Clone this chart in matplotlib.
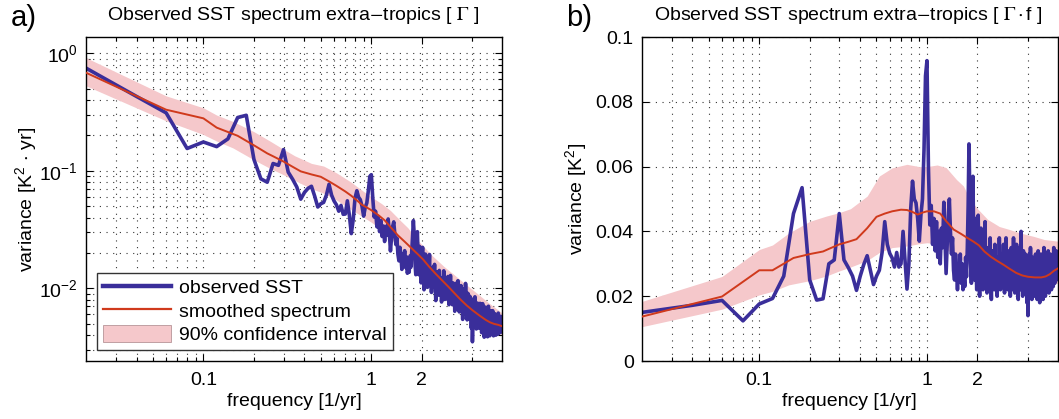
import numpy as np
import matplotlib
matplotlib.use('Agg')
import matplotlib.pyplot as plt
from matplotlib.ticker import FixedLocator, FixedFormatter, NullFormatter
from matplotlib.lines import Line2D
from matplotlib.patches import Patch

plt.rcParams['font.family'] = ['Liberation Sans', 'DejaVu Sans']
plt.rcParams['mathtext.fontset'] = 'stix'

# frequency grid of the periodogram [1/yr], 0.02 ... 6.00
freq = np.round(np.arange(1, 301) / 50.0, 2)

# observed SST spectrum times frequency (panel b) [K^2]
obs_gf = np.array([
    # 0.02 - 1.00
    0.0150, 0.0172, 0.0187, 0.0124, 0.0176, 0.0193, 0.0262, 0.0455, 0.0535, 0.0250,
    0.0188, 0.0192, 0.0300, 0.0312, 0.0455, 0.0312, 0.0288, 0.0262, 0.0218, 0.0262,
    0.0298, 0.0325, 0.0280, 0.0236, 0.0262, 0.0280, 0.0335, 0.0430, 0.0360, 0.0332,
    0.0318, 0.0290, 0.0335, 0.0290, 0.0300, 0.0400, 0.0310, 0.0222, 0.0300, 0.0470,
    0.0555, 0.0500, 0.0488, 0.0440, 0.0370, 0.0450, 0.0500, 0.0650, 0.0880, 0.0927,
    # 1.02 - 2.00
    0.060, 0.042, 0.048, 0.036, 0.044, 0.034, 0.043, 0.032, 0.040, 0.030,
    0.041, 0.035, 0.049, 0.038, 0.027, 0.036, 0.045, 0.050, 0.040, 0.033,
    0.038, 0.028, 0.025, 0.033, 0.029, 0.022, 0.030, 0.026, 0.033, 0.024,
    0.030, 0.022, 0.027, 0.023, 0.032, 0.026, 0.035, 0.048, 0.067, 0.052,
    0.030, 0.024, 0.042, 0.057, 0.035, 0.025, 0.044, 0.030, 0.022, 0.036,
    # 2.02 - 6.00
    0.045, 0.028, 0.020, 0.033, 0.041, 0.026, 0.031, 0.022, 0.037, 0.029,
    0.043, 0.025, 0.032, 0.021, 0.028, 0.035, 0.024, 0.030, 0.038, 0.026,
    0.019, 0.030, 0.034, 0.025, 0.029, 0.022, 0.036, 0.027, 0.024, 0.032,
    0.020, 0.028, 0.031, 0.024, 0.038, 0.026, 0.022, 0.030, 0.027, 0.033,
    0.023, 0.029, 0.036, 0.025, 0.021, 0.031, 0.027, 0.038, 0.024, 0.030,
    0.026, 0.022, 0.034, 0.028, 0.025, 0.032, 0.020, 0.029, 0.035, 0.024,
    0.027, 0.031, 0.022, 0.038, 0.026, 0.029, 0.021, 0.033, 0.025, 0.028,
    0.036, 0.023, 0.030, 0.026, 0.019, 0.031, 0.027, 0.035, 0.024, 0.029,
    0.022, 0.040, 0.027, 0.025, 0.032, 0.020, 0.028, 0.034, 0.024, 0.030,
    0.026, 0.021, 0.033, 0.027, 0.024, 0.030, 0.018, 0.026, 0.031, 0.014,
    0.020, 0.029, 0.033, 0.024, 0.027, 0.021, 0.035, 0.026, 0.023, 0.030,
    0.019, 0.028, 0.025, 0.032, 0.022, 0.027, 0.024, 0.031, 0.020, 0.028,
    0.025, 0.033, 0.021, 0.027, 0.030, 0.023, 0.019, 0.029, 0.026, 0.034,
    0.022, 0.028, 0.024, 0.031, 0.018, 0.026, 0.029, 0.023, 0.033, 0.025,
    0.021, 0.028, 0.032, 0.024, 0.027, 0.019, 0.030, 0.025, 0.035, 0.022,
    0.028, 0.026, 0.031, 0.020, 0.027, 0.024, 0.033, 0.023, 0.029, 0.026,
    0.030, 0.022, 0.027, 0.034, 0.024, 0.028, 0.021, 0.031, 0.026, 0.029,
    0.023, 0.033, 0.025, 0.030, 0.027, 0.022, 0.032, 0.026, 0.029, 0.024,
    0.031, 0.027, 0.023, 0.030, 0.035, 0.025, 0.028, 0.032, 0.024, 0.029,
    0.033, 0.026, 0.030, 0.027, 0.034, 0.025, 0.029, 0.031, 0.027, 0.030,
])

# smoothed spectrum times frequency
smooth_f = np.array([0.02, 0.06, 0.10, 0.12, 0.16, 0.20, 0.24, 0.26, 0.30, 0.34,
                     0.38, 0.44, 0.50, 0.56, 0.62, 0.70, 0.76, 0.82, 0.88, 0.94,
                     1.00, 1.10, 1.20, 1.30, 1.44, 1.60, 1.74, 1.90, 2.04, 2.20,
                     2.40, 2.60, 2.86, 3.10, 3.40, 3.70, 4.00, 4.40, 4.80, 5.10,
                     5.40, 5.70, 6.00])
smooth_gf = np.array([0.0137, 0.0199, 0.0280, 0.0280, 0.0318, 0.0330, 0.0338, 0.0346, 0.0360, 0.0368,
                      0.0376, 0.0410, 0.0445, 0.0455, 0.0462, 0.0467, 0.0466, 0.0460, 0.0452, 0.0458,
                      0.0462, 0.0462, 0.0455, 0.0432, 0.0406, 0.0392, 0.0380, 0.0368, 0.0357, 0.0338,
                      0.0322, 0.0310, 0.0297, 0.0285, 0.0272, 0.0264, 0.0260, 0.0258, 0.0258, 0.0261,
                      0.0268, 0.0278, 0.0285])

# 90% confidence interval times frequency
ci_f = np.array([0.02, 0.06, 0.10, 0.12, 0.15, 0.20, 0.25, 0.30, 0.35, 0.44,
                 0.52, 0.62, 0.76, 0.90, 1.00, 1.15, 1.30, 1.50, 1.65, 1.80,
                 2.00, 2.30, 2.70, 3.10, 3.60, 4.30, 5.00, 6.00])
ci_lo = np.array([0.0106, 0.0160, 0.0204, 0.0215, 0.0235, 0.0248, 0.0262, 0.0278, 0.0290, 0.0310,
                  0.0335, 0.0350, 0.0355, 0.0362, 0.0365, 0.0362, 0.0345, 0.0325, 0.0310, 0.0298,
                  0.0285, 0.0270, 0.0250, 0.0240, 0.0235, 0.0233, 0.0235, 0.0240])
ci_hi = np.array([0.0184, 0.0261, 0.0344, 0.0358, 0.0395, 0.0431, 0.0447, 0.0458, 0.0470, 0.0509,
                  0.0571, 0.0596, 0.0607, 0.0600, 0.0600, 0.0605, 0.0597, 0.0560, 0.0540, 0.0500,
                  0.0470, 0.0437, 0.0415, 0.0406, 0.0395, 0.0385, 0.0375, 0.0370])

x_major = [0.1, 1, 2]
x_major_labels = ['0.1', '1', '2']
x_minor = [0.03, 0.04, 0.05, 0.06, 0.07, 0.08, 0.09,
           0.2, 0.3, 0.4, 0.5, 0.6, 0.7, 0.8, 0.9, 4]
ya_major = [1e-2, 1e-1, 1]
ya_labels = [r'$\mathregular{10^{-2}}$', r'$\mathregular{10^{-1}}$', r'$\mathregular{10^{0}}$']
yb_major = [0, 0.02, 0.04, 0.06, 0.08, 0.1]
yb_labels = ['0', '0.02', '0.04', '0.06', '0.08', '0.1']

c_obs = '#3a2e9a'
c_smooth = '#d03a1c'
c_ci = '#f5c8cb'
FS = 14
grid_kw = dict(color='#333333', linestyle=(0, (1, 5)), linewidth=0.8)

W, H = 1059, 419
fig = plt.figure(figsize=(W / 100, H / 100), dpi=100)
axa = fig.add_axes([86 / W, 58 / H, 416 / W, 324 / H])
axb = fig.add_axes([642 / W, 58 / H, 415.5 / W, 324 / H])


def style_axis(ax):
    ax.set_xscale('log')
    ax.set_xlim(0.02, 6)
    ax.xaxis.set_major_locator(FixedLocator(x_major))
    ax.xaxis.set_major_formatter(FixedFormatter(x_major_labels))
    ax.xaxis.set_minor_locator(FixedLocator(x_minor))
    ax.xaxis.set_minor_formatter(NullFormatter())
    ax.tick_params(which='both', direction='in', top=True, right=True,
                   labelsize=FS, width=0.8, pad=6)
    ax.tick_params(axis='x', which='major', pad=8)
    ax.tick_params(which='major', length=5)
    ax.tick_params(which='minor', length=3)
    ax.set_axisbelow(True)
    for s in ax.spines.values():
        s.set_linewidth(1.0)
    ax.set_xlabel('frequency [1/yr]', fontsize=FS)
    ax.xaxis.set_label_coords(0.5, -0.098)


# panel a: spectrum
style_axis(axa)
axa.set_yscale('log')
axa.set_ylim(0.0024, 1.38)
axa.yaxis.set_major_locator(FixedLocator(ya_major))
axa.yaxis.set_major_formatter(FixedFormatter(ya_labels))
axa.grid(True, which='both', **grid_kw)
axa.fill_between(ci_f, ci_lo / ci_f, ci_hi / ci_f, color=c_ci, linewidth=0, zorder=1)
axa.plot(freq, obs_gf / freq, color=c_obs, linewidth=2.6, zorder=2)
axa.plot(smooth_f, smooth_gf / smooth_f, color=c_smooth, linewidth=1.4, zorder=3)

handles = [Line2D([], [], color=c_obs, linewidth=3.2),
           Line2D([], [], color=c_smooth, linewidth=1.6),
           Patch(facecolor=c_ci, edgecolor='#b79598', linewidth=0.6)]
leg = axa.legend(handles, ['observed SST', 'smoothed spectrum', '90% confidence interval'],
                 loc='lower left', bbox_to_anchor=(0.026, 0.034), borderaxespad=0,
                 fontsize=FS, handlelength=3.5, handleheight=0.95, handletextpad=0.45,
                 borderpad=0.3, labelspacing=0.22, fancybox=False, framealpha=1)
leg.get_frame().set_edgecolor('#333333')
leg.get_frame().set_linewidth(1.0)

# panel b: spectrum times frequency
style_axis(axb)
axb.set_ylim(0, 0.1)
axb.yaxis.set_major_locator(FixedLocator(yb_major))
axb.yaxis.set_major_formatter(FixedFormatter(yb_labels))
axb.xaxis.grid(True, which='both', **grid_kw)
axb.yaxis.grid(True, which='major', **grid_kw)
axb.fill_between(ci_f, ci_lo, ci_hi, color=c_ci, linewidth=0, zorder=1)
axb.plot(freq, obs_gf, color=c_obs, linewidth=2.6, zorder=2)
axb.plot(smooth_f, smooth_gf, color=c_smooth, linewidth=1.4, zorder=3)

fig.text(27 / W, 1 - 199 / H, r'variance [K$^{\mathregular{2}}$ $\cdot$ yr]', rotation=90,
         ha='center', va='center', fontsize=FS)
fig.text(577 / W, 1 - 199 / H, r'variance [K$^{\mathregular{2}}$]', rotation=90,
         ha='center', va='center', fontsize=FS)
fig.text(293 / W, 1 - 16 / H, r'Observed SST spectrum extra$-$tropics [ $\Gamma$ ]',
         ha='center', va='center', fontsize=FS)
fig.text(848 / W, 1 - 16 / H, r'Observed SST spectrum extra$-$tropics [ $\Gamma\cdot$f ]',
         ha='center', va='center', fontsize=FS)
fig.text(24 / W, 1 - 18 / H, 'a)', ha='center', va='center', fontsize=21)
fig.text(579 / W, 1 - 18 / H, 'b)', ha='center', va='center', fontsize=21)

fig.savefig('out.png', dpi=100)
